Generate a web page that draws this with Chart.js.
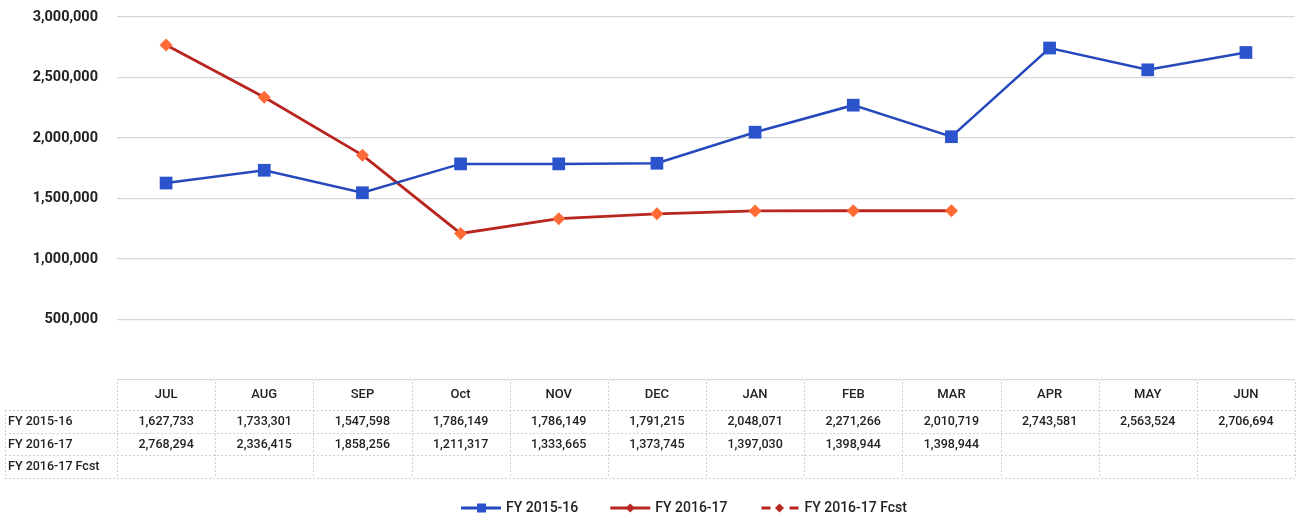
<!DOCTYPE html>
<html>
<head>
<meta charset="utf-8">
<script src="https://cdn.jsdelivr.net/npm/chart.js@4"></script>
<style>
  html, body { margin: 0; padding: 0; background: #fff; overflow: hidden; }
  #wrap { width: 1304px; height: 520px; position: relative; }
</style>
</head>
<body>
<div id="wrap"><canvas id="salesChart"></canvas></div>
<script>
const months = ['JUL', 'AUG', 'SEP', 'Oct', 'NOV', 'DEC', 'JAN', 'FEB', 'MAR', 'APR', 'MAY', 'JUN'];
const fy1516 = [1627733, 1733301, 1547598, 1786149, 1786149, 1791215, 2048071, 2271266, 2010719, 2743581, 2563524, 2706694];
const fy1617 = [2768294, 2336415, 1858256, 1211317, 1333665, 1373745, 1397030, 1398944, 1398944, null, null, null];
const fy1617Fcst = [null, null, null, null, null, null, null, null, null, null, null, null];
const seriesNames = ['FY 2015-16', 'FY 2016-17', 'FY 2016-17 Fcst'];
const yTicks = [0, 500000, 1000000, 1500000, 2000000, 2500000, 3000000];

const FONT = 'Roboto, Lato, sans-serif';
const BLUE = '#2548bd';
const BLUE_PT = '#2b54cc';
const RED = '#b8261f';
const RED_PT = '#ff6a35';

function fmt(v) {
    return v == null ? '' : v.toLocaleString('en-US');
}

// legend icons: line with the marker in the middle
function drawIcon(g, x, y, i) {
    g.save();
    g.lineWidth = 3;
    if (i === 0) {
        g.strokeStyle = BLUE;
        g.beginPath(); g.moveTo(x, y); g.lineTo(x + 40, y); g.stroke();
        g.fillStyle = BLUE_PT;
        g.fillRect(x + 16, y - 4.5, 9, 9);
    } else {
        g.strokeStyle = RED;
        g.fillStyle = RED;
        if (i === 2) {
            g.beginPath(); g.moveTo(x + 2, y); g.lineTo(x + 11, y); g.stroke();
            g.beginPath(); g.moveTo(x + 30, y); g.lineTo(x + 39, y); g.stroke();
        } else {
            g.beginPath(); g.moveTo(x, y); g.lineTo(x + 40, y); g.stroke();
        }
        g.beginPath();
        g.moveTo(x + 20, y - 4.5); g.lineTo(x + 24.5, y);
        g.lineTo(x + 20, y + 4.5); g.lineTo(x + 15.5, y);
        g.closePath(); g.fill();
    }
    g.restore();
}

// data table + legend drawn under the plot, columns follow the x scale
const dataTable = {
    id: 'dataTable',
    afterDraw(chart) {
        const ctx = chart.ctx;
        const x = chart.scales.x;
        const top = chart.chartArea.bottom;
        const rowY = [top + 15, top + 42, top + 65, top + 87];
        const lineY = [top + 30, top + 53, top + 75, top + 98];
        const step = x.getPixelForValue(1) - x.getPixelForValue(0);
        const left = x.getPixelForValue(0) - step / 2;
        const right = x.getPixelForValue(months.length - 1) + step / 2;

        ctx.save();
        ctx.strokeStyle = '#d0d0d0';
        ctx.lineWidth = 1;
        ctx.setLineDash([2, 2]);
        lineY.forEach(y => {
            ctx.beginPath();
            ctx.moveTo(5, y + 0.5);
            ctx.lineTo(right, y + 0.5);
            ctx.stroke();
        });
        for (let i = 0; i <= months.length; i++) {
            const cx = Math.round(left + i * step) + 0.5;
            ctx.beginPath();
            ctx.moveTo(cx, top + 2);
            ctx.lineTo(cx, lineY[3]);
            ctx.stroke();
        }
        ctx.beginPath();
        ctx.moveTo(5.5, lineY[0]);
        ctx.lineTo(5.5, lineY[3]);
        ctx.stroke();
        ctx.setLineDash([]);

        ctx.fillStyle = '#222';
        ctx.textBaseline = 'middle';
        ctx.font = '500 13px ' + FONT;
        ctx.textAlign = 'center';
        months.forEach((m, i) => ctx.fillText(m, x.getPixelForValue(i), rowY[0]));

        ctx.font = '500 12.5px ' + FONT;
        ctx.textAlign = 'left';
        seriesNames.forEach((n, r) => ctx.fillText(n, 8, rowY[r + 1]));

        ctx.textAlign = 'center';
        [fy1516, fy1617, fy1617Fcst].forEach((vals, r) => {
            vals.forEach((v, i) => {
                if (v != null) ctx.fillText(fmt(v), x.getPixelForValue(i), rowY[r + 1]);
            });
        });

        // legend
        ctx.font = '500 14px ' + FONT;
        ctx.textAlign = 'left';
        const iconW = 42, gap = 32, ly = 508;
        const widths = seriesNames.map(n => iconW + 3 + ctx.measureText(n).width);
        const total = widths.reduce((a, b) => a + b, 0) + gap * (widths.length - 1);
        let lx = 684 - total / 2;
        seriesNames.forEach((n, i) => {
            drawIcon(ctx, lx, ly, i);
            ctx.fillText(n, lx + iconW + 3, ly);
            lx += widths[i] + gap;
        });
        ctx.restore();
    }
};

const ctx = document.getElementById('salesChart').getContext('2d');
new Chart(ctx, {
    type: 'line',
    data: {
        labels: months,
        datasets: [
            {
                label: seriesNames[0],
                data: fy1516,
                borderColor: BLUE,
                borderWidth: 2.5,
                pointStyle: 'rect',
                pointRadius: 9,
                pointBorderWidth: 0,
                pointBackgroundColor: BLUE_PT,
                tension: 0
            },
            {
                label: seriesNames[1],
                data: fy1617,
                borderColor: RED,
                borderWidth: 2.8,
                pointStyle: 'rectRot',
                pointRadius: 6.5,
                pointBorderWidth: 0,
                pointBackgroundColor: RED_PT,
                tension: 0
            },
            {
                label: seriesNames[2],
                data: fy1617Fcst,
                borderColor: RED,
                borderDash: [8, 8],
                borderWidth: 2.5,
                pointStyle: 'rectRot',
                pointRadius: 6,
                pointBackgroundColor: RED,
                tension: 0
            }
        ]
    },
    options: {
        responsive: true,
        maintainAspectRatio: false,
        animation: false,
        layout: { padding: { top: 17, left: 0, right: 0, bottom: 32 } },
        scales: {
            x: {
                offset: true,
                grid: { display: false },
                border: { display: false },
                ticks: { display: false },
                afterFit: s => { s.height = 108; }
            },
            y: {
                min: 0,
                max: 3000000,
                afterFit: s => { s.width = 117; s.paddingTop = 0; s.paddingBottom = 0; },
                afterBuildTicks: s => { s.ticks = yTicks.map(v => ({ value: v })); },
                border: { display: false },
                grid: { color: '#d6d6d6', drawTicks: false, lineWidth: 1.2 },
                ticks: {
                    padding: 19,
                    color: '#222',
                    font: { family: FONT, size: 14.5, weight: 'bold' },
                    callback: v => (v === 0 ? '' : fmt(v))
                }
            }
        },
        plugins: {
            tooltip: { enabled: false },
            legend: { display: false }
        }
    },
    plugins: [dataTable]
});
</script>
</body>
</html>
